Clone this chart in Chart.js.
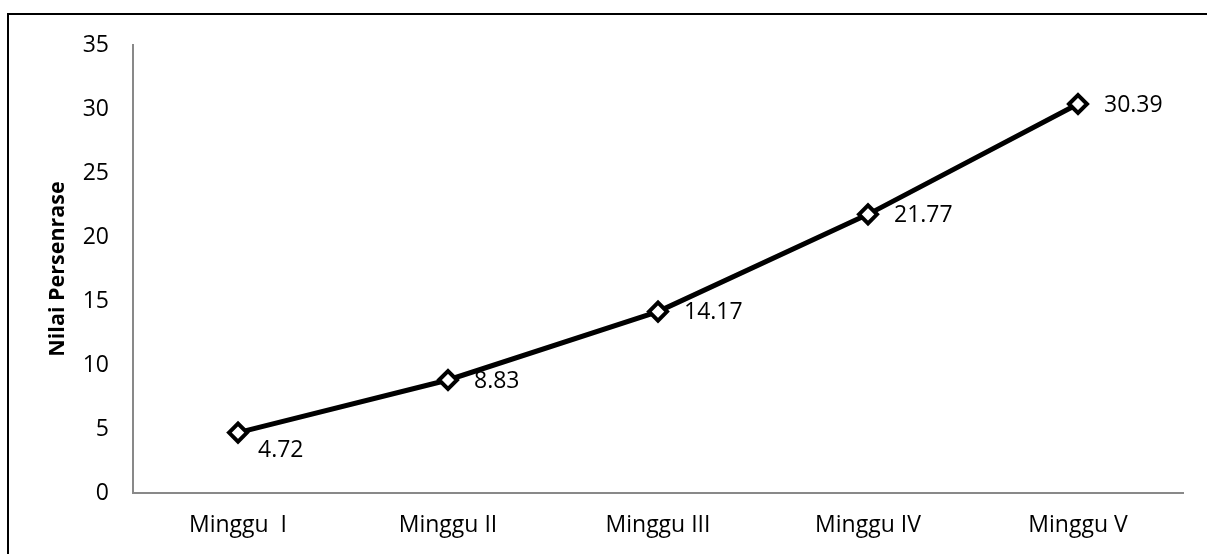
<!DOCTYPE html>
<html>
<head>
<meta charset="utf-8">
<script src="https://cdn.jsdelivr.net/npm/chart.js@4/dist/chart.umd.min.js"></script>
<style>
  html, body { margin: 0; padding: 0; background: #fff; overflow: hidden; }
  #frame { position: absolute; left: 7px; top: 13px; width: 1300px; height: 700px; border: 2px solid #000; box-sizing: border-box; }
  #wrap { position: absolute; left: 0; top: 0; width: 1207px; height: 554px; }
</style>
</head>
<body>
<div id="frame"></div>
<div id="wrap"><canvas id="c" width="1207" height="554"></canvas></div>
<script>
const weeks = ['Minggu  I', 'Minggu II', 'Minggu III', 'Minggu IV', 'Minggu V'];
const percentValues = [4.72, 8.83, 14.17, 21.77, 30.39];
const yAxisTitle = 'Nilai Persenrase';

const FONT = '"Open Sans", sans-serif';
const FONT_SIZE = 23;
const AXIS_GREY = '#898989';

// Value labels beside each marker; the first one sits a little lower
const valueLabels = {
  id: 'valueLabels',
  afterDatasetsDraw(chart) {
    const ctx = chart.ctx;
    const meta = chart.getDatasetMeta(0);
    ctx.save();
    ctx.font = FONT_SIZE + 'px ' + FONT;
    ctx.fillStyle = '#000';
    ctx.textAlign = 'left';
    ctx.textBaseline = 'middle';
    meta.data.forEach((pt, i) => {
      const v = chart.data.datasets[0].data[i];
      const dx = i === 0 ? 20 : 26;
      const dy = i === 0 ? 18 : 1;
      ctx.fillText(v.toFixed(2), pt.x + dx, pt.y + dy);
    });
    ctx.restore();
  }
};

new Chart(document.getElementById('c'), {
  type: 'line',
  data: {
    labels: weeks,
    datasets: [{
      data: percentValues,
      borderColor: '#000',
      borderWidth: 5,
      tension: 0,
      pointStyle: 'rectRot',
      pointRadius: 9,
      pointHoverRadius: 9,
      pointBackgroundColor: '#fff',
      pointBorderColor: '#000',
      pointBorderWidth: 4
    }]
  },
  options: {
    responsive: false,
    animation: false,
    events: [],
    layout: { padding: { left: 0, top: 45, right: 24, bottom: 0 } },
    plugins: { legend: { display: false }, tooltip: { enabled: false } },
    scales: {
      x: {
        offset: true,
        grid: { display: true, drawOnChartArea: false, drawTicks: false, offset: true },
        border: { color: AXIS_GREY, width: 2 },
        ticks: { color: '#000', font: { family: FONT, size: FONT_SIZE }, padding: 19, maxRotation: 0 },
        afterFit(scale) { scale.height = 61; }
      },
      y: {
        min: 0, max: 35,
        grid: { display: true, drawOnChartArea: false, drawTicks: false },
        border: { color: AXIS_GREY, width: 2 },
        ticks: { stepSize: 5, color: '#000', font: { family: FONT, size: FONT_SIZE }, padding: 24 },
        title: {
          display: true, text: yAxisTitle, color: '#000',
          font: { family: FONT, size: 21.5, weight: 'bold' },
          padding: { top: 45, bottom: 0 }
        },
        afterFit(scale) { scale.width = 133; }
      }
    }
  },
  plugins: [valueLabels]
});
</script>
</body>
</html>
